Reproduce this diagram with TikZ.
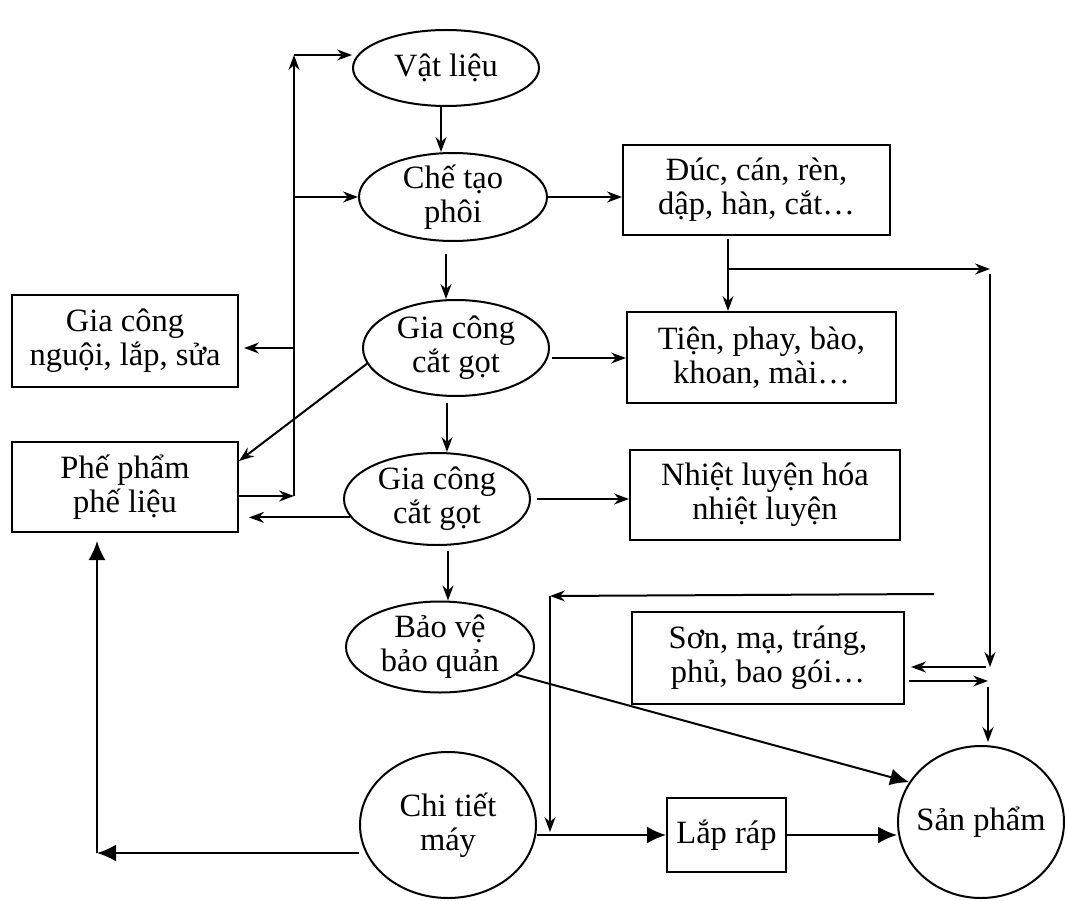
\documentclass[tikz,border=0pt]{standalone}
\usepackage{fontspec}
\setmainfont{Liberation Serif}
\usetikzlibrary{shapes.geometric,arrows.meta,calc}
\begin{document}
\begin{tikzpicture}[x=1pt,y=-1pt,
  lw/.style={line width=2pt},
  oval/.style={draw, lw, ellipse, inner sep=0pt},
  box/.style={draw, lw, rectangle, inner sep=0pt, align=center, font=\fontsize{32.5}{34}\selectfont},
  txt/.style={align=center, inner sep=0pt, font=\fontsize{32.5}{34}\selectfont},
  arr/.style={lw, -{Stealth[length=15pt,width=11pt,inset=5pt]}},
  big/.style={lw, -{Latex[length=19pt,width=17pt]}}]
\useasboundingbox (0,0) rectangle (1067,901);

% ellipses
\node[oval, minimum width=186pt, minimum height=76pt] (vl) at (446,68) {};
\node[txt] (vlt) at (vl) {Vật liệu};
\node[oval, minimum width=188pt, minimum height=88pt] (ct) at (453,197) {};
\node[txt] (ctt) at (ct) {Chế tạo\\phôi};
\node[oval, minimum width=186pt, minimum height=96pt] (gc1) at (456,348) {};
\node[txt] (gc1t) at (gc1) {Gia công\\cắt gọt};
\node[oval, minimum width=186pt, minimum height=92pt] (gc2) at (437,499) {};
\node[txt] (gc2t) at (gc2) {Gia công\\cắt gọt};
\node[oval, minimum width=188pt, minimum height=91pt] (bv) at (440,647) {};
\node[txt] (bvt) at (bv) {Bảo vệ\\bảo quản};
\node[oval, minimum width=176pt, minimum height=146pt] (cht) at (448,825) {};
\node[txt] (chtt) at (cht) {Chi tiết\\máy};
\node[oval, minimum width=166pt, minimum height=152pt] (sp) at (981,822) {};
\node[txt] (spt) at (sp) {Sản phẩm};

% boxes
\node[box, minimum width=267pt, minimum height=90pt] (duc) at (756.5,190) {Đúc, cán, rèn,\\dập, hàn, cắt…};
\node[box, minimum width=269pt, minimum height=91pt] (tien) at (761.5,357.5) {Tiện, phay, bào,\\khoan, mài…};
\node[box, minimum width=270pt, minimum height=90pt] (nhiet) at (765,495) {Nhiệt luyện hóa\\nhiệt luyện};
\node[box, minimum width=272pt, minimum height=92pt] (son) at (768,658) {Sơn, mạ, tráng,\\phủ, bao gói…};
\node[box, minimum width=119pt, minimum height=74pt] (lr) at (726.5,835) {Lắp ráp};
\node[box, minimum width=226pt, minimum height=92pt] (gcn) at (125,341) {Gia công\\nguội, lắp, sửa};
\node[box, minimum width=226pt, minimum height=90pt] (pp) at (125,487) {Phế phẩm\\phế liệu};

% helper coordinates
\coordinate (sTop) at (294,55);
\coordinate (sBot) at (294,496);
\coordinate (sMid) at (294,348);
\coordinate (xA) at (441,0);
\coordinate (xB) at (446,0);
\coordinate (xC) at (447,0);
\coordinate (xE) at (448,0);
\coordinate (xD) at (728,0);
\coordinate (yT) at (0,358);
\coordinate (br) at (728,269);
\coordinate (rc) at (990,269);
\coordinate (rv) at (990,274);
\coordinate (rs) at (990,667);
\coordinate (ro) at (988,681);
\coordinate (rd) at (988,687);
\coordinate (tl) at (934,594);
\coordinate (tc) at (550,596);
\coordinate (jl) at (550,835);
\coordinate (bl) at (97,853);

% left spine
\draw[arr] (sBot) -- (sTop);
\draw[arr] (sTop) -- (sTop -| vl.west);
\draw[arr] (ct.west -| sTop) -- (ct.west);
\draw[arr] (sMid) -- ([xshift=5pt]sMid -| gcn.east);
\draw[arr] (pp.east |- sBot) -- (sBot);
\draw[arr] (gc2.192) -- ([xshift=10pt]pp.east |- gc2.192);
\draw[arr] (gc1.190) -- ([yshift=-20pt]pp.north east);

% main column
\draw[arr] (vl.south -| xA) -- (ct.north -| xA);
\draw[arr, shorten <=12pt] (ct.south -| xB) -- (gc1.north -| xB);
\draw[arr, shorten <=6pt] (gc1.south -| xC) -- (gc2.north -| xC);
\draw[arr, shorten <=5pt] (gc2.south -| xE) -- (bv.north -| xE);

% right side
\draw[arr] (ct.east) -- (ct.east -| duc.west);
\draw[arr, shorten <=3pt] (duc.south -| xD) -- (tien.north -| xD);
\draw[arr] (br) -- (rc);
\draw[arr] (rv) -- (rs);
\draw[arr] ([xshift=-4pt]rs) -- ([xshift=6pt]son.east |- rs);
\draw[arr] ([xshift=4pt]son.east |- ro) -- (ro);
\draw[arr, shorten >=3pt] (rd) -- (rd |- sp.north);
\draw[arr] ([xshift=2pt]gc1.east |- yT) -- (tien.west |- yT);
\draw[arr] ([xshift=6pt]gc2.east) -- (gc2.east -| nhiet.west);

% bottom
\draw[arr] (tl) -- (tc);
\draw[arr] (tc) -- ([yshift=3pt]jl);
\draw[big] (cht.east |- jl) -- (lr.west |- jl);
\draw[big] (lr.east) -- (lr.east -| sp.west);
\draw[big] (bv.-20) -- (sp.151);
\draw[big] (cht.west |- bl) -- (bl);
\draw[big, shorten >=8pt] (bl) -- (bl |- pp.south);
\end{tikzpicture}
\end{document}
